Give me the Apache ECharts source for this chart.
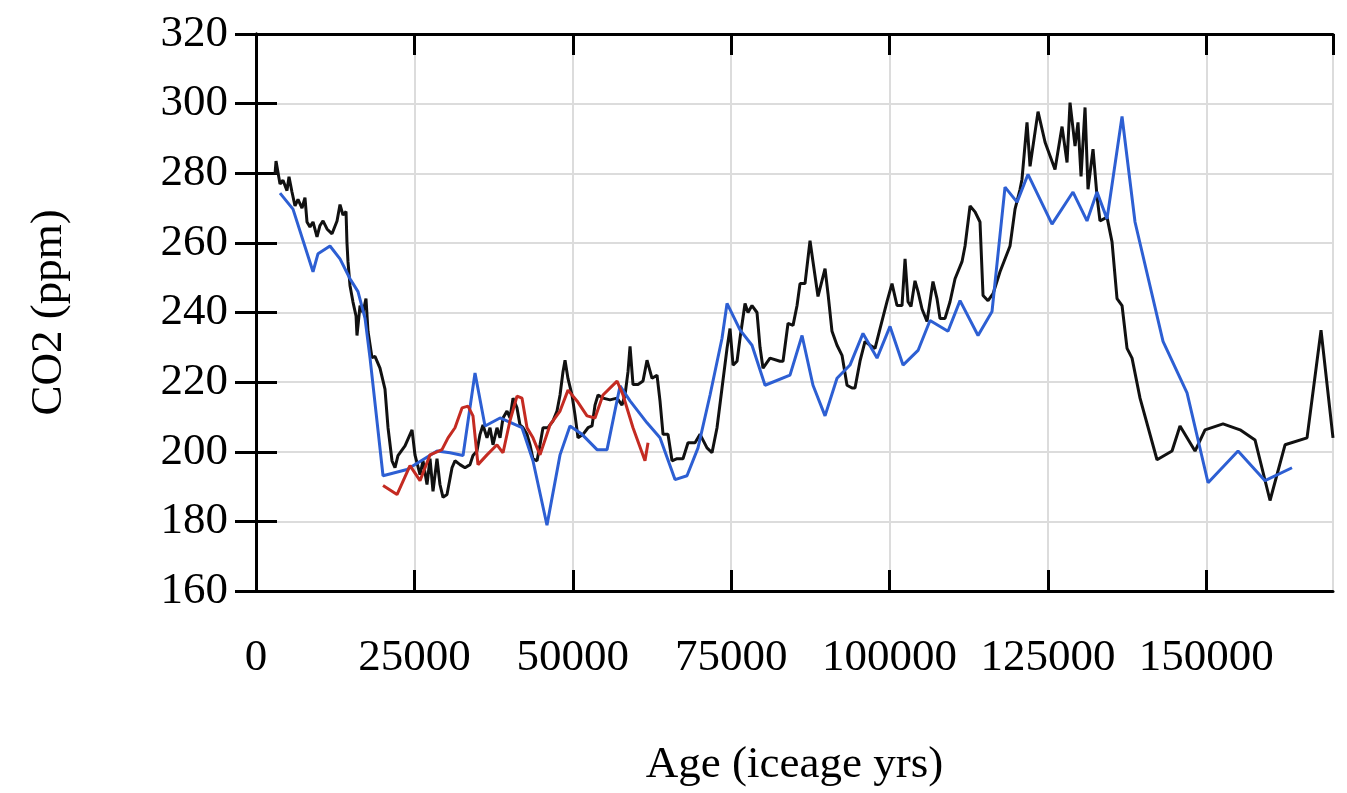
<!DOCTYPE html>
<html>
<head>
<meta charset="utf-8">
<script src="https://cdn.jsdelivr.net/npm/echarts@6/dist/echarts.min.js"></script>
<style>
  html, body { margin: 0; padding: 0; background: #fff; }
  #chart { width: 1347px; height: 793px; }
</style>
</head>
<body>
<div id="chart"></div>
<script>
// black record: [age, ppm]
const blackAge = [3000,3160,3790,4260,4890,5210,5680,6160,6630,7260,7730,8050,8520,9000,9630,10100,10580,11210,12000,12790,13260,13730,14210,14360,14520,14840,15310,15790,15940,16420,16890,17360,17680,18310,18780,19570,20360,20840,21470,21940,22410,23520,24630,25100,25890,26360,26990,27470,27940,28570,29040,29520,30150,30940,31410,32200,32990,33780,34250,34880,35360,35830,36460,36940,37410,38040,38520,38990,39620,40090,40570,41200,41670,42150,42780,43250,43720,44360,44830,45300,46090,46880,47510,47990,48460,48780,49250,49880,50350,50830,51620,52410,53040,53510,53990,54770,55880,56990,57770,58250,58720,59040,59510,60300,61090,61720,62510,63300,63770,64250,65030,65670,66460,67400,68190,69300,70090,71190,71980,72770,73560,74350,74820,75300,75930,76400,77190,77660,78290,79080,79560,80030,81130,82710,83190,83980,84770,85400,85870,86660,87450,87920,88710,89820,90290,90920,91710,92500,93290,94080,94550,95340,96130,96920,97710,98500,99600,100390,101180,101970,102450,102920,103390,104020,104500,105130,105920,106860,107490,107970,108760,109550,110340,111440,111920,112710,113500,114280,114760,115550,116340,117440,119020,119810,120600,120910,121700,122180,123440,124550,126120,127230,128020,128490,129280,129750,130230,130860,131330,132120,132750,133220,134330,135120,135910,136700,137490,138280,139540,142220,144590,145850,148220,149800,152640,155330,157690,160060,162430,165900,168110,170000];
const blackPpm = [279.7,283.5,276.9,278,275,279,274.6,270.6,272.5,270,273,266,264.6,266,261.7,265,266.3,264,262.6,266.3,271,268,269,260,254.6,247.7,243,239,233.4,242,240,244,234.6,227,227.4,224,218,206.9,197.4,195.4,198.9,201.7,206.3,199,193.4,197.4,190.6,198,188.6,198,190.6,186.9,187.7,195.4,197.4,196.3,195.4,196.3,198.9,200.2,205,207.7,204,206.9,202,206.9,204,209.7,211.7,209.7,215.4,212.6,207.7,206.9,205,202,198,197.4,202,206.9,206.9,208.9,211.7,216.3,223,226.3,221,216.3,210.6,204,205,206.9,207.4,213.4,216.3,215.4,214.9,215.4,213.4,216.3,223,230.3,219.3,219.3,220.3,226.3,221.1,222,214.6,205,205,197.4,198,198,202.6,202.6,205,201.1,199.7,206.9,218.3,229.7,235.4,224.9,226,232.6,242.6,240,242,240,230,224,226.9,226,226,236.9,236.3,242,248.3,248.3,260.6,254.6,244.6,252.6,245.4,234.6,230.6,227.7,219.1,218.3,218.3,226,231.7,230.6,229.7,235.4,243.1,248.3,242,242,255.4,243.1,241.7,249.1,246,241,237.4,248.9,244,238.3,238.3,243.1,249.7,254.6,259.1,270.6,268.9,266,244.9,243.4,245.4,251.7,259.1,269.7,275.4,278.3,294.6,282,297.7,288.9,281.1,293.4,283.1,300.3,287.8,294.6,279.1,298.9,275.4,286.9,273.4,266.3,267.4,260.3,244,242,229.7,226.9,215.4,197.7,200.2,207.4,200.2,206.3,208,206.3,203.4,186,202,204,234.9,204];

// blue record
const blueAge = [3790,5840,9000,9790,11680,13260,14840,16100,17210,18000,20050,23840,28570,30620,32680,34570,36150,38520,41990,43720,45930,47990,49560,51460,53830,55410,57460,59040,61720,63770,66140,68030,69770,71670,73560,74350,76400,78290,80350,84290,86190,87920,89820,91710,93760,95810,98030,100080,102130,104500,106390,109230,111130,113970,116180,118230,120130,121860,125650,128960,131170,132750,134330,136700,138750,143170,146960,150280,155010,159270,163530];
const bluePpm = [274.3,269.7,251.7,256.9,259.1,255.4,249.7,246,238.3,226.9,193.1,194.9,200.2,199.7,198.9,222.6,207.4,209.7,206.9,197.4,178.9,199.1,207.4,205,200.6,200.6,218.9,214.6,208.3,204,192,193.1,201.1,216.3,232.6,242.6,235,230.6,219.1,222,233.4,219.1,210.3,221.1,224.9,234,226.9,236,224.9,229.1,237.7,234.6,243.4,233.4,240.3,276,271.7,279.7,265.4,274.6,266.3,274.6,266.9,296.3,266,231.7,216.9,191.1,200.2,191.7,195.4];

// red record
const redAge = [20050,22260,24310,25890,27470,29360,30310,31410,32520,33460,34250,35040,36460,38040,38990,40090,41200,41990,42780,43720,44830,46410,47990,49250,50670,52250,53510,54770,56990,57930,59510,61400,61880];
const redPpm = [190.3,187.7,196,191.7,199.1,200.6,204,206.9,212.6,213.1,210.3,196.3,199.1,202,199.7,208.9,216,215.4,206.9,204,199.1,207.7,211.7,217.7,214.6,210.3,209.7,216.3,220.3,216.3,206.9,197.4,202.6];

const pair = (a, b) => a.map((v, i) => [v, b[i]]);

const chart = echarts.init(document.getElementById('chart'));
const font = 'Liberation Serif';
const axisLine = { show: true, lineStyle: { color: '#000', width: 3 } };
const tickIn = { show: true, inside: true, length: 21, lineStyle: { color: '#000', width: 3 } };

chart.setOption({
  animation: false,
  backgroundColor: '#fff',
  grid: { left: 256, top: 34, right: 14, bottom: 199 },
  xAxis: [
    {
      type: 'value', min: 0, max: 170000, interval: 25000,
      name: 'Age (iceage yrs)', nameLocation: 'middle', nameGap: 152,
      nameTextStyle: { fontFamily: font, fontSize: 45, color: '#000' },
      axisLine: axisLine, axisTick: tickIn,
      axisLabel: { fontFamily: font, fontSize: 45, color: '#000', margin: 45, showMaxLabel: false,
        formatter: v => String(v) },
      splitLine: { show: true, lineStyle: { color: '#dcdcdc', width: 2 } }
    },
    {
      type: 'value', position: 'top', min: 0, max: 170000, interval: 25000,
      axisLine: axisLine, axisTick: tickIn,
      axisLabel: { show: false }, splitLine: { show: false }
    }
  ],
  yAxis: [
    {
      type: 'value', min: 160, max: 320, interval: 20,
      name: 'CO2 (ppm)', nameLocation: 'middle', nameGap: 184,
      nameTextStyle: { fontFamily: font, fontSize: 45, color: '#000' },
      axisLine: axisLine, axisTick: tickIn,
      axisLabel: { fontFamily: font, fontSize: 45, color: '#000', margin: 28 },
      splitLine: { show: true, lineStyle: { color: '#dcdcdc', width: 2 } }
    },
    {
      type: 'value', position: 'right', min: 160, max: 320, interval: 20,
      axisLine: axisLine, axisTick: tickIn,
      axisLabel: { show: false }, splitLine: { show: false }
    }
  ],
  series: [
    { type: 'line', data: pair(blackAge, blackPpm), showSymbol: false, lineStyle: { color: '#111', width: 3 }, itemStyle: { color: '#111' } },
    { type: 'line', data: pair(blueAge, bluePpm), showSymbol: false, lineStyle: { color: '#2d5fd3', width: 3 }, itemStyle: { color: '#2d5fd3' } },
    { type: 'line', data: pair(redAge, redPpm), showSymbol: false, lineStyle: { color: '#c42b22', width: 3 }, itemStyle: { color: '#c42b22' } }
  ]
});
</script>
</body>
</html>
